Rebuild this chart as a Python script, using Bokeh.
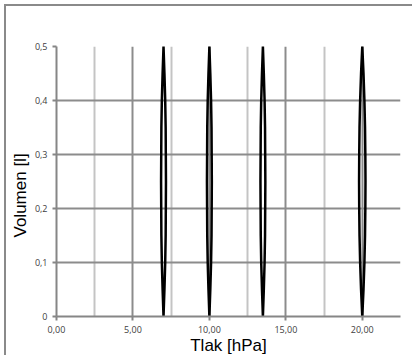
from bokeh.plotting import figure
from bokeh.models import Range1d, FixedTicker, Title
from bokeh.embed import file_html
from bokeh.resources import INLINE

# ---- data ----
volume = [0.0, 0.05, 0.1, 0.15, 0.2, 0.25, 0.3, 0.35, 0.4, 0.45, 0.5]

loop1_up = [7.00, 6.94, 6.89, 6.86, 6.85, 6.84, 6.85, 6.86, 6.89, 6.94, 7.00]
loop1_down = [7.00, 7.06, 7.11, 7.14, 7.15, 7.16, 7.15, 7.14, 7.11, 7.06, 7.00]

loop2_up = [10.00, 9.94, 9.89, 9.86, 9.85, 9.84, 9.85, 9.86, 9.89, 9.94, 10.00]
loop2_down = [10.00, 10.06, 10.11, 10.14, 10.15, 10.16, 10.15, 10.14, 10.11, 10.06, 10.00]

loop3_up = [13.50, 13.44, 13.39, 13.36, 13.35, 13.34, 13.35, 13.36, 13.39, 13.44, 13.50]
loop3_down = [13.50, 13.56, 13.61, 13.64, 13.65, 13.66, 13.65, 13.64, 13.61, 13.56, 13.50]

loop4_up = [20.00, 19.92, 19.86, 19.82, 19.80, 19.79, 19.80, 19.82, 19.86, 19.92, 20.00]
loop4_down = [20.00, 20.08, 20.14, 20.18, 20.20, 20.21, 20.20, 20.18, 20.14, 20.08, 20.00]

x_tick_values = [0, 5, 10, 15, 20]
x_tick_labels = ["0,00", "5,00", "10,00", "15,00", "20,00"]
x_minor_values = [2.5, 7.5, 12.5, 17.5, 22.5]
y_tick_values = [0, 0.1, 0.2, 0.3, 0.4, 0.5]
y_tick_labels = ["0", "0,1", "0,2", "0,3", "0,4", "0,5"]

x_title = "Tlak [hPa]"
y_title = "Volumen [l]"

# ---- figure ----
p = figure(width=408, height=351, output_backend="svg", toolbar_location=None,
           x_range=Range1d(0, 22.5), y_range=Range1d(0, 0.5),
           min_border_left=46, min_border_right=14, min_border_top=40,
           min_border_bottom=41,
           styles={"margin-left": "4px", "margin-top": "4px",
                   "border-top": "2px solid #8a8a8a",
                   "border-left": "2px solid #8a8a8a"})
p.outline_line_color = None
p.background_fill_color = "white"
p.border_fill_color = "white"

# x axis
p.xaxis.ticker = FixedTicker(ticks=x_tick_values, minor_ticks=x_minor_values)
p.xaxis.major_label_overrides = {v: l for v, l in zip(x_tick_values, x_tick_labels)}
p.xaxis.axis_line_color = "#868686"
p.xaxis.axis_line_width = 2
p.xaxis.major_tick_line_color = "#868686"
p.xaxis.major_tick_line_width = 2
p.xaxis.major_tick_in = 0
p.xaxis.major_tick_out = 4
p.xaxis.minor_tick_out = 0
p.xaxis.minor_tick_in = 0
p.xaxis.major_label_standoff = 5
p.xaxis.major_label_text_font = "Open Sans"
p.xaxis.major_label_text_font_size = "9px"
p.xaxis.major_label_text_color = "#404040"
p.xaxis.axis_label = x_title
p.xaxis.axis_label_text_font = "Liberation Sans"
p.xaxis.axis_label_text_font_size = "17px"
p.xaxis.axis_label_text_font_style = "normal"
p.xaxis.axis_label_text_color = "black"
p.xaxis.axis_label_standoff = 0

# y axis
p.yaxis.ticker = FixedTicker(ticks=y_tick_values)
p.yaxis.major_label_overrides = {v: l for v, l in zip(y_tick_values, y_tick_labels)}
p.yaxis.axis_line_color = "#868686"
p.yaxis.axis_line_width = 2
p.yaxis.major_tick_line_color = "#868686"
p.yaxis.major_tick_line_width = 2
p.yaxis.major_tick_in = 0
p.yaxis.major_tick_out = 4
p.yaxis.minor_tick_out = 0
p.yaxis.major_label_standoff = 5
p.yaxis.major_label_text_font = "Open Sans"
p.yaxis.major_label_text_font_size = "9px"
p.yaxis.major_label_text_color = "#404040"

# grids
p.xgrid.ticker = FixedTicker(ticks=x_tick_values, minor_ticks=x_minor_values)
p.xgrid.grid_line_color = "#8c8c8c"
p.xgrid.grid_line_width = 2
p.xgrid.minor_grid_line_color = "#c4c4c4"
p.xgrid.minor_grid_line_width = 2
p.ygrid.ticker = FixedTicker(ticks=y_tick_values)
p.ygrid.grid_line_color = "#8c8c8c"
p.ygrid.grid_line_width = 2

# loops
for up, down in [(loop1_up, loop1_down), (loop2_up, loop2_down),
                 (loop3_up, loop3_down), (loop4_up, loop4_down)]:
    xs = up + down[::-1]
    ys = volume + volume[::-1]
    p.line(xs, ys, line_color="black", line_width=2.5, line_join="round")

# y title (sits below the frame centre, as in the reference)
p.add_layout(Title(text=y_title, align="left", offset=79, standoff=4,
                   text_font="Liberation Sans", text_font_size="17px",
                   text_font_style="normal", text_color="black"), "left")

open("out.html", "w").write(file_html(p, INLINE))
